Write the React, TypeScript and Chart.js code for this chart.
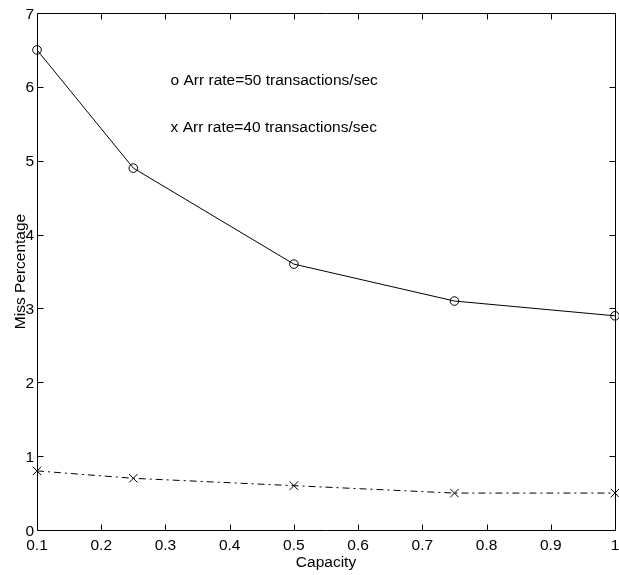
import React, { useEffect, useRef } from "react";
import { Chart, registerables } from "chart.js";

Chart.register(...registerables);

const capacity = [0.1, 0.25, 0.5, 0.75, 1.0];
const missRate50 = [6.5, 4.9, 3.6, 3.1, 2.9];
const missRate40 = [0.8, 0.7, 0.6, 0.5, 0.5];
const xTicks = [0.1, 0.2, 0.3, 0.4, 0.5, 0.6, 0.7, 0.8, 0.9, 1];
const xTickLabels = ["0.1", "0.2", "0.3", "0.4", "0.5", "0.6", "0.7", "0.8", "0.9", "1"];
const yTicks = [0, 1, 2, 3, 4, 5, 6, 7];
const yTickLabels = ["0", "1", "2", "3", "4", "5", "6", "7"];
const noteTexts = ["o Arr rate=50 transactions/sec", "x Arr rate=40 transactions/sec"];
const noteX = [0.308, 0.308];
const noteY = [6.02, 5.39];
const xTitle = "Capacity";
const yTitle = "Miss Percentage";

const FONT = '15.5px "Liberation Sans", Arial, Helvetica, sans-serif';

const axesPlugin = {
  id: "matlabAxes",
  beforeDatasetsDraw(chart: any) {
    const { ctx, chartArea, scales } = chart;
    const x = scales.x;
    const y = scales.y;
    const L = chartArea.left + 0.5;
    const R = chartArea.right + 0.5;
    const T = chartArea.top + 0.5;
    const B = chartArea.bottom + 0.5;
    ctx.save();
    ctx.strokeStyle = "#000";
    ctx.lineWidth = 1;
    ctx.beginPath();
    ctx.rect(L, T, R - L, B - T);
    ctx.stroke();
    const tl = 6;
    ctx.beginPath();
    xTicks.forEach((v) => {
      const px = Math.round(x.getPixelForValue(v)) + 0.5;
      ctx.moveTo(px, B);
      ctx.lineTo(px, B - tl);
      ctx.moveTo(px, T);
      ctx.lineTo(px, T + tl);
    });
    yTicks.forEach((v) => {
      const py = Math.round(y.getPixelForValue(v)) + 0.5;
      ctx.moveTo(L, py);
      ctx.lineTo(L + tl, py);
      ctx.moveTo(R, py);
      ctx.lineTo(R - tl, py);
    });
    ctx.stroke();

    ctx.fillStyle = "#000";
    ctx.font = FONT;
    ctx.textBaseline = "alphabetic";
    ctx.textAlign = "center";
    xTicks.forEach((v, i) => {
      ctx.fillText(xTickLabels[i], x.getPixelForValue(v), chartArea.bottom + 20);
    });
    ctx.textAlign = "right";
    yTicks.forEach((v, i) => {
      ctx.fillText(yTickLabels[i], chartArea.left - 3, y.getPixelForValue(v) + 5.5);
    });
    ctx.textAlign = "center";
    ctx.fillText(xTitle, (chartArea.left + chartArea.right) / 2, chartArea.bottom + 37);
    ctx.save();
    ctx.translate(25, (chartArea.top + chartArea.bottom) / 2);
    ctx.rotate(-Math.PI / 2);
    ctx.fillText(yTitle, 0, 0);
    ctx.restore();

    ctx.textAlign = "left";
    noteTexts.forEach((t, i) => {
      ctx.fillText(t, x.getPixelForValue(noteX[i]), y.getPixelForValue(noteY[i]));
    });
    ctx.restore();
  },
};

export default function App() {
  const ref = useRef<HTMLCanvasElement | null>(null);
  useEffect(() => {
    if (!ref.current) return;
    const chart = new Chart(ref.current, {
      type: "line",
      data: {
        datasets: [
          {
            data: capacity.map((c, i) => ({ x: c, y: missRate50[i] })),
            borderColor: "#000",
            borderWidth: 1,
            pointStyle: "circle",
            pointRadius: 4.3,
            pointBorderWidth: 1,
            pointBorderColor: "#000",
            pointBackgroundColor: "rgba(0,0,0,0)",
            tension: 0,
            clip: false as any,
          },
          {
            data: capacity.map((c, i) => ({ x: c, y: missRate40[i] })),
            borderColor: "#000",
            borderWidth: 1,
            borderDash: [7, 4, 2, 4],
            pointStyle: "crossRot",
            pointRadius: 6,
            pointBorderWidth: 1,
            pointBorderColor: "#000",
            pointBackgroundColor: "rgba(0,0,0,0)",
            tension: 0,
            clip: false as any,
          },
        ],
      },
      options: {
        responsive: false,
        animation: false,
        devicePixelRatio: 1,
        layout: { padding: { left: 37, right: 1, top: 13, bottom: 45 } },
        plugins: { legend: { display: false }, tooltip: { enabled: false } },
        events: [],
        scales: {
          x: { type: "linear", min: 0.1, max: 1, display: false },
          y: { type: "linear", min: 0, max: 7, display: false },
        },
      },
      plugins: [axesPlugin],
    });
    return () => chart.destroy();
  }, []);
  return (
    <div
      style={{
        position: "fixed",
        left: 0,
        top: 0,
        width: 619,
        height: 575,
        overflow: "hidden",
        background: "#fff",
      }}
    >
      <canvas ref={ref} width={622} height={575} style={{ display: "block", width: 622, height: 575 }} />
    </div>
  );
}
